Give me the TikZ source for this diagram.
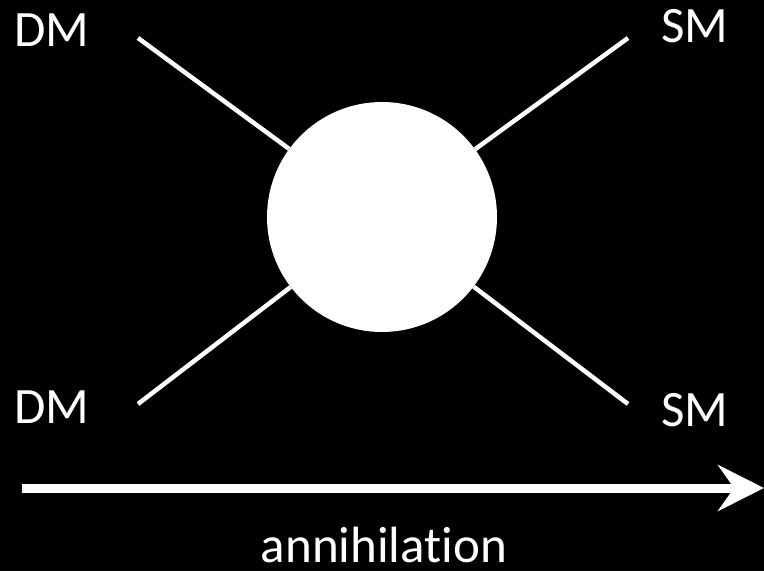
\documentclass[tikz,border=0pt]{standalone}
\usepackage{fontspec}
\setmainfont{Carlito}[Ligatures=NoCommon]
\usetikzlibrary{arrows.meta}
\begin{document}
\begin{tikzpicture}[
            x=1pt, y=-1pt,
            leg/.style={draw=white, line width=4.5pt},
            label/.style={text=white, font=\fontsize{51}{60}\selectfont, anchor=base, inner sep=0pt},
            blob/.style={circle, fill=white, minimum size=230pt, inner sep=0pt}
        ]
            \fill[black] (0,0) rectangle (764,571);
            \useasboundingbox (0,0) rectangle (764,571);
            \node[blob] (c) at (382,217) {};
            \coordinate (p1) at (138,38);
            \coordinate (p2) at (628,38);
            \coordinate (p3) at (138,404);
            \coordinate (p4) at (628,404);
            \draw[leg] (p1)--(c) (p2)--(c);
            \draw[leg] (p3)--(c) (p4)--(c);
            \node[label] (dm1) at (52,46) {DM};
            \node[label] (sm1) at (695,42) {SM};
            \node[label] (dm2) at (52,423) {DM};
            \node[label] (sm2) at (695,426) {SM};
            \coordinate (a0) at (22,488);
            \coordinate (a1) at (764,488);
            \draw[draw=white, line width=9pt, -{Stealth[length=46pt, width=46pt, inset=16pt, fill=white]}] (a0)--(a1);
            \node[label] (ann) at (384,562) {annihilation};
        \end{tikzpicture}
\end{document}
